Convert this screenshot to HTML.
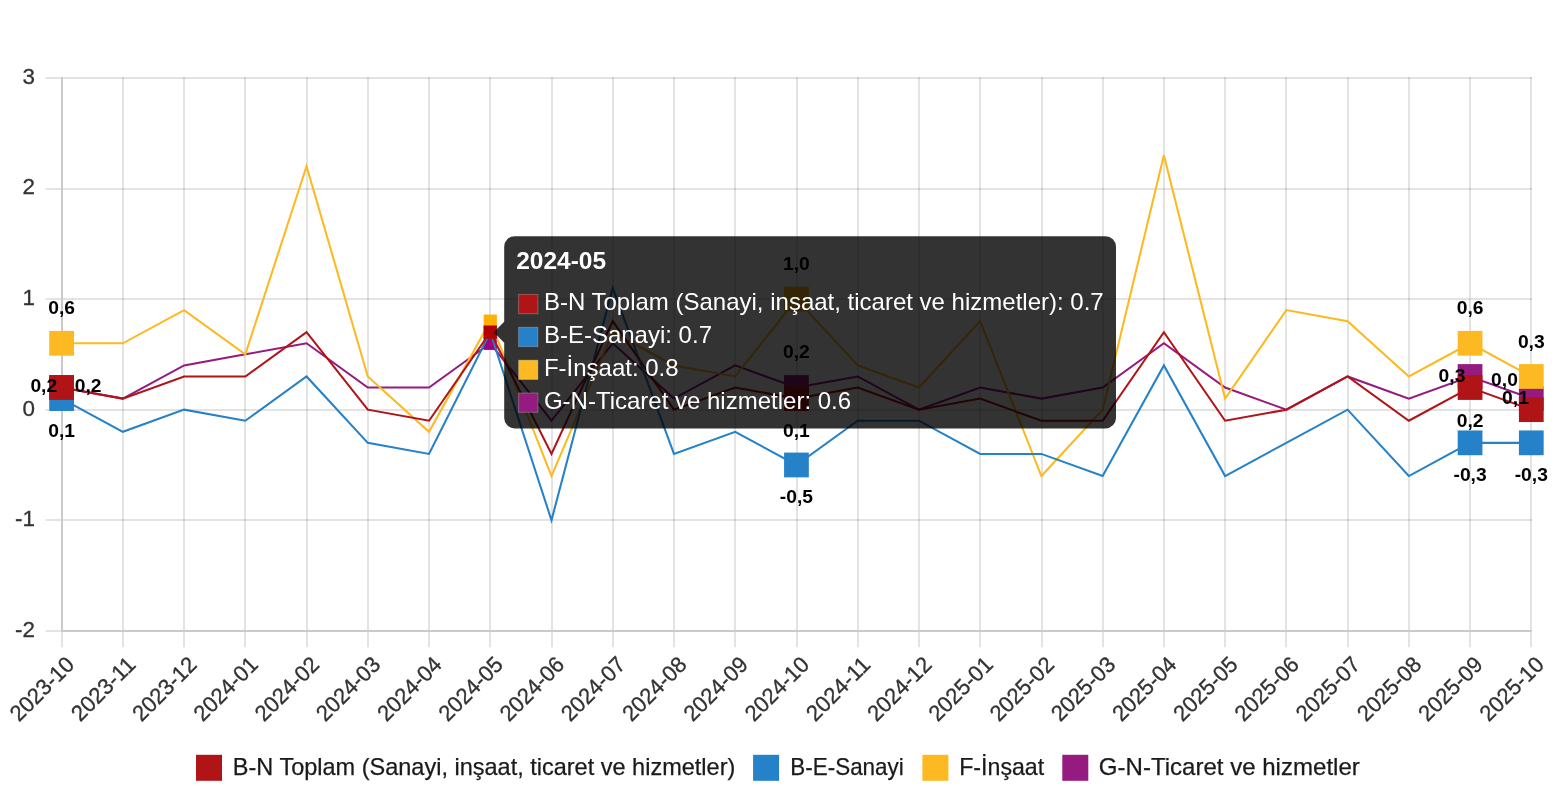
<!DOCTYPE html>
<html lang="tr"><head><meta charset="utf-8"><title>Chart</title>
<style>html,body{margin:0;padding:0;background:#fff;}body{width:1556px;height:800px;overflow:hidden;}svg{display:block;}text{font-family:'Liberation Sans', sans-serif;}.tk{font-size:22.4px;fill:#333;stroke:#333;stroke-width:0.3px;}.lg{font-size:24px;fill:#1a1a1a;stroke:#1a1a1a;stroke-width:0.25px;}.dl{font-size:19.25px;font-weight:bold;fill:#000;text-anchor:middle;}.tt{font-size:24.5px;font-weight:bold;fill:#fff;}.tb{font-size:24px;fill:#fff;}</style></head><body>
<svg width="1556" height="800" viewBox="0 0 1556 800">
<g stroke="rgba(0,0,0,0.11)" stroke-width="2" fill="none">
<line x1="45.75" y1="78.000" x2="1532.00" y2="78.000"/>
<line x1="45.75" y1="189.000" x2="1532.00" y2="189.000"/>
<line x1="45.75" y1="299.000" x2="1532.00" y2="299.000"/>
<line x1="45.75" y1="410.000" x2="1532.00" y2="410.000"/>
<line x1="45.75" y1="520.000" x2="1532.00" y2="520.000"/>
<line x1="45.75" y1="631.000" x2="1532.00" y2="631.000"/>
<line x1="62.000" y1="77.00" x2="62.000" y2="647.25"/>
<line x1="123.000" y1="77.00" x2="123.000" y2="647.25"/>
<line x1="184.000" y1="77.00" x2="184.000" y2="647.25"/>
<line x1="245.000" y1="77.00" x2="245.000" y2="647.25"/>
<line x1="307.000" y1="77.00" x2="307.000" y2="647.25"/>
<line x1="368.000" y1="77.00" x2="368.000" y2="647.25"/>
<line x1="429.000" y1="77.00" x2="429.000" y2="647.25"/>
<line x1="490.000" y1="77.00" x2="490.000" y2="647.25"/>
<line x1="552.000" y1="77.00" x2="552.000" y2="647.25"/>
<line x1="613.000" y1="77.00" x2="613.000" y2="647.25"/>
<line x1="674.000" y1="77.00" x2="674.000" y2="647.25"/>
<line x1="735.000" y1="77.00" x2="735.000" y2="647.25"/>
<line x1="797.000" y1="77.00" x2="797.000" y2="647.25"/>
<line x1="858.000" y1="77.00" x2="858.000" y2="647.25"/>
<line x1="919.000" y1="77.00" x2="919.000" y2="647.25"/>
<line x1="980.000" y1="77.00" x2="980.000" y2="647.25"/>
<line x1="1042.000" y1="77.00" x2="1042.000" y2="647.25"/>
<line x1="1103.000" y1="77.00" x2="1103.000" y2="647.25"/>
<line x1="1164.000" y1="77.00" x2="1164.000" y2="647.25"/>
<line x1="1225.000" y1="77.00" x2="1225.000" y2="647.25"/>
<line x1="1286.000" y1="77.00" x2="1286.000" y2="647.25"/>
<line x1="1348.000" y1="77.00" x2="1348.000" y2="647.25"/>
<line x1="1409.000" y1="77.00" x2="1409.000" y2="647.25"/>
<line x1="1470.000" y1="77.00" x2="1470.000" y2="647.25"/>
<line x1="1531.000" y1="77.00" x2="1531.000" y2="647.25"/>
</g>
<g stroke="#cacaca" stroke-width="2" fill="none">
<line x1="62.000" y1="79.00" x2="62.000" y2="632.00"/>
<line x1="61.00" y1="631.000" x2="1532.00" y2="631.000"/>
</g>
<g class="tk" text-anchor="end">
<text x="35.00" y="83.75">3</text>
<text x="35.00" y="194.37">2</text>
<text x="35.00" y="304.99">1</text>
<text x="35.00" y="415.61">0</text>
<text x="35.00" y="526.23">-1</text>
<text x="35.00" y="636.85">-2</text>
</g>
<g class="tk" text-anchor="end">
<text transform="translate(61.60 651.90) rotate(-45)" x="0" y="19.90" textLength="80" lengthAdjust="spacingAndGlyphs">2023-10</text>
<text transform="translate(122.84 651.90) rotate(-45)" x="0" y="19.90" textLength="80" lengthAdjust="spacingAndGlyphs">2023-11</text>
<text transform="translate(184.08 651.90) rotate(-45)" x="0" y="19.90" textLength="80" lengthAdjust="spacingAndGlyphs">2023-12</text>
<text transform="translate(245.31 651.90) rotate(-45)" x="0" y="19.90" textLength="80" lengthAdjust="spacingAndGlyphs">2024-01</text>
<text transform="translate(306.55 651.90) rotate(-45)" x="0" y="19.90" textLength="80" lengthAdjust="spacingAndGlyphs">2024-02</text>
<text transform="translate(367.79 651.90) rotate(-45)" x="0" y="19.90" textLength="80" lengthAdjust="spacingAndGlyphs">2024-03</text>
<text transform="translate(429.03 651.90) rotate(-45)" x="0" y="19.90" textLength="80" lengthAdjust="spacingAndGlyphs">2024-04</text>
<text transform="translate(490.26 651.90) rotate(-45)" x="0" y="19.90" textLength="80" lengthAdjust="spacingAndGlyphs">2024-05</text>
<text transform="translate(551.50 651.90) rotate(-45)" x="0" y="19.90" textLength="80" lengthAdjust="spacingAndGlyphs">2024-06</text>
<text transform="translate(612.74 651.90) rotate(-45)" x="0" y="19.90" textLength="80" lengthAdjust="spacingAndGlyphs">2024-07</text>
<text transform="translate(673.98 651.90) rotate(-45)" x="0" y="19.90" textLength="80" lengthAdjust="spacingAndGlyphs">2024-08</text>
<text transform="translate(735.21 651.90) rotate(-45)" x="0" y="19.90" textLength="80" lengthAdjust="spacingAndGlyphs">2024-09</text>
<text transform="translate(796.45 651.90) rotate(-45)" x="0" y="19.90" textLength="80" lengthAdjust="spacingAndGlyphs">2024-10</text>
<text transform="translate(857.69 651.90) rotate(-45)" x="0" y="19.90" textLength="80" lengthAdjust="spacingAndGlyphs">2024-11</text>
<text transform="translate(918.93 651.90) rotate(-45)" x="0" y="19.90" textLength="80" lengthAdjust="spacingAndGlyphs">2024-12</text>
<text transform="translate(980.16 651.90) rotate(-45)" x="0" y="19.90" textLength="80" lengthAdjust="spacingAndGlyphs">2025-01</text>
<text transform="translate(1041.40 651.90) rotate(-45)" x="0" y="19.90" textLength="80" lengthAdjust="spacingAndGlyphs">2025-02</text>
<text transform="translate(1102.64 651.90) rotate(-45)" x="0" y="19.90" textLength="80" lengthAdjust="spacingAndGlyphs">2025-03</text>
<text transform="translate(1163.88 651.90) rotate(-45)" x="0" y="19.90" textLength="80" lengthAdjust="spacingAndGlyphs">2025-04</text>
<text transform="translate(1225.11 651.90) rotate(-45)" x="0" y="19.90" textLength="80" lengthAdjust="spacingAndGlyphs">2025-05</text>
<text transform="translate(1286.35 651.90) rotate(-45)" x="0" y="19.90" textLength="80" lengthAdjust="spacingAndGlyphs">2025-06</text>
<text transform="translate(1347.59 651.90) rotate(-45)" x="0" y="19.90" textLength="80" lengthAdjust="spacingAndGlyphs">2025-07</text>
<text transform="translate(1408.83 651.90) rotate(-45)" x="0" y="19.90" textLength="80" lengthAdjust="spacingAndGlyphs">2025-08</text>
<text transform="translate(1470.06 651.90) rotate(-45)" x="0" y="19.90" textLength="80" lengthAdjust="spacingAndGlyphs">2025-09</text>
<text transform="translate(1531.30 651.90) rotate(-45)" x="0" y="19.90" textLength="80" lengthAdjust="spacingAndGlyphs">2025-10</text>
</g>
<polyline points="61.60,387.54 122.84,398.60 184.08,365.41 245.31,354.35 306.55,343.29 367.79,387.54 429.03,387.54 490.26,343.29 551.50,420.72 612.74,343.29 673.98,398.60 735.21,365.41 796.45,387.54 857.69,376.47 918.93,409.66 980.16,387.54 1041.40,398.60 1102.64,387.54 1163.88,343.29 1225.11,387.54 1286.35,409.66 1347.59,376.47 1408.83,398.60 1470.06,376.47 1531.30,398.60" fill="none" stroke="#951b81" stroke-width="2.05" stroke-linejoin="miter" stroke-linecap="butt"/>
<rect x="49.23" y="375.16" width="24.75" height="24.75" fill="#951b81"/>
<rect x="784.08" y="375.16" width="24.75" height="24.75" fill="#951b81"/>
<rect x="1457.69" y="364.10" width="24.75" height="24.75" fill="#951b81"/>
<rect x="1518.92" y="386.22" width="24.75" height="24.75" fill="#951b81"/>
<rect x="483.66" y="336.69" width="13.20" height="13.20" fill="#a0007f"/>
<polyline points="61.60,343.29 122.84,343.29 184.08,310.10 245.31,354.35 306.55,166.30 367.79,376.47 429.03,431.78 490.26,321.16 551.50,476.03 612.74,332.23 673.98,365.41 735.21,376.47 796.45,299.04 857.69,365.41 918.93,387.54 980.16,321.16 1041.40,476.03 1102.64,409.66 1163.88,155.23 1225.11,398.60 1286.35,310.10 1347.59,321.16 1408.83,376.47 1470.06,343.29 1531.30,376.47" fill="none" stroke="#fcb921" stroke-width="2.05" stroke-linejoin="miter" stroke-linecap="butt"/>
<rect x="49.23" y="330.91" width="24.75" height="24.75" fill="#fcb921"/>
<rect x="784.08" y="286.67" width="24.75" height="24.75" fill="#fcb921"/>
<rect x="1457.69" y="330.91" width="24.75" height="24.75" fill="#fcb921"/>
<rect x="1518.92" y="364.10" width="24.75" height="24.75" fill="#fcb921"/>
<rect x="483.66" y="314.56" width="13.20" height="13.20" fill="#ffb000"/>
<polyline points="61.60,398.60 122.84,431.78 184.08,409.66 245.31,420.72 306.55,376.47 367.79,442.85 429.03,453.91 490.26,332.23 551.50,520.28 612.74,287.98 673.98,453.91 735.21,431.78 796.45,464.97 857.69,420.72 918.93,420.72 980.16,453.91 1041.40,453.91 1102.64,476.03 1163.88,365.41 1225.11,476.03 1286.35,442.85 1347.59,409.66 1408.83,476.03 1470.06,442.85 1531.30,442.85" fill="none" stroke="#2581c8" stroke-width="2.05" stroke-linejoin="miter" stroke-linecap="butt"/>
<rect x="49.23" y="386.22" width="24.75" height="24.75" fill="#2581c8"/>
<rect x="784.08" y="452.60" width="24.75" height="24.75" fill="#2581c8"/>
<rect x="1457.69" y="430.47" width="24.75" height="24.75" fill="#2581c8"/>
<rect x="1518.92" y="430.47" width="24.75" height="24.75" fill="#2581c8"/>
<rect x="483.66" y="325.63" width="13.20" height="13.20" fill="#0a7fdb"/>
<polyline points="61.60,387.54 122.84,398.60 184.08,376.47 245.31,376.47 306.55,332.23 367.79,409.66 429.03,420.72 490.26,332.23 551.50,453.91 612.74,321.16 673.98,409.66 735.21,387.54 796.45,398.60 857.69,387.54 918.93,409.66 980.16,398.60 1041.40,420.72 1102.64,420.72 1163.88,332.23 1225.11,420.72 1286.35,409.66 1347.59,376.47 1408.83,420.72 1470.06,387.54 1531.30,409.66" fill="none" stroke="#b01417" stroke-width="2.05" stroke-linejoin="miter" stroke-linecap="butt"/>
<rect x="49.23" y="375.16" width="24.75" height="24.75" fill="#b01417"/>
<rect x="784.08" y="386.22" width="24.75" height="24.75" fill="#b01417"/>
<rect x="1457.69" y="375.16" width="24.75" height="24.75" fill="#b01417"/>
<rect x="1518.92" y="397.29" width="24.75" height="24.75" fill="#b01417"/>
<rect x="483.66" y="325.63" width="13.20" height="13.20" fill="#b30000"/>
<path d="M514.70 236.20 H1105.50 A10.5 10.5 0 0 1 1116.00 246.70 V417.90 A10.5 10.5 0 0 1 1105.50 428.40 H514.70 A10.5 10.5 0 0 1 504.20 417.90 V342.73 L493.70 332.23 L504.20 321.73 V246.70 A10.5 10.5 0 0 1 514.70 236.20 Z" fill="rgba(0,0,0,0.8)"/>
<text class="tt" x="516.2" y="268.6">2024-05</text>
<rect x="518.6" y="294.40" width="19.3" height="19.3" fill="#b01417" stroke="rgba(255,255,255,0.25)" stroke-width="1"/>
<text class="tb" x="543.9" y="310.00">B-N Toplam (Sanayi, inşaat, ticaret ve hizmetler): 0.7</text>
<rect x="518.6" y="327.30" width="19.3" height="19.3" fill="#2581c8" stroke="rgba(255,255,255,0.25)" stroke-width="1"/>
<text class="tb" x="543.9" y="342.90">B-E-Sanayi: 0.7</text>
<rect x="518.6" y="360.20" width="19.3" height="19.3" fill="#fcb921" stroke="rgba(255,255,255,0.25)" stroke-width="1"/>
<text class="tb" x="543.9" y="375.80">F-İnşaat: 0.8</text>
<rect x="518.6" y="393.00" width="19.3" height="19.3" fill="#951b81" stroke="rgba(255,255,255,0.25)" stroke-width="1"/>
<text class="tb" x="543.9" y="408.60">G-N-Ticaret ve hizmetler: 0.6</text>
<text class="dl" x="61.60" y="314.20">0,6</text>
<text class="dl" x="43.80" y="391.60">0,2</text>
<text class="dl" x="88.20" y="391.60">0,2</text>
<text class="dl" x="61.60" y="437.00">0,1</text>
<text class="dl" x="796.45" y="269.90">1,0</text>
<text class="dl" x="796.45" y="357.80">0,2</text>
<text class="dl" x="796.45" y="436.50">0,1</text>
<text class="dl" x="796.45" y="503.00">-0,5</text>
<text class="dl" x="1470.06" y="314.20">0,6</text>
<text class="dl" x="1452.00" y="381.80">0,3</text>
<text class="dl" x="1470.06" y="427.00">0,2</text>
<text class="dl" x="1470.06" y="481.20">-0,3</text>
<text class="dl" x="1531.30" y="347.50">0,3</text>
<text class="dl" x="1504.50" y="385.50">0,0</text>
<text class="dl" x="1515.50" y="403.80">0,1</text>
<text class="dl" x="1531.30" y="481.20">-0,3</text>
<rect x="196.00" y="754.8" width="26" height="26" fill="#b01417"/>
<text class="lg" x="232.80" y="774.8" textLength="502.5" lengthAdjust="spacingAndGlyphs">B-N Toplam (Sanayi, inşaat, ticaret ve hizmetler)</text>
<rect x="753.10" y="754.8" width="26" height="26" fill="#2581c8"/>
<text class="lg" x="790.30" y="774.8" textLength="113.5" lengthAdjust="spacingAndGlyphs">B-E-Sanayi</text>
<rect x="922.40" y="754.8" width="26" height="26" fill="#fcb921"/>
<text class="lg" x="959.20" y="774.8" textLength="85.0" lengthAdjust="spacingAndGlyphs">F-İnşaat</text>
<rect x="1062.30" y="754.8" width="26" height="26" fill="#951b81"/>
<text class="lg" x="1098.80" y="774.8" textLength="261.0" lengthAdjust="spacingAndGlyphs">G-N-Ticaret ve hizmetler</text>
</svg></body></html>
